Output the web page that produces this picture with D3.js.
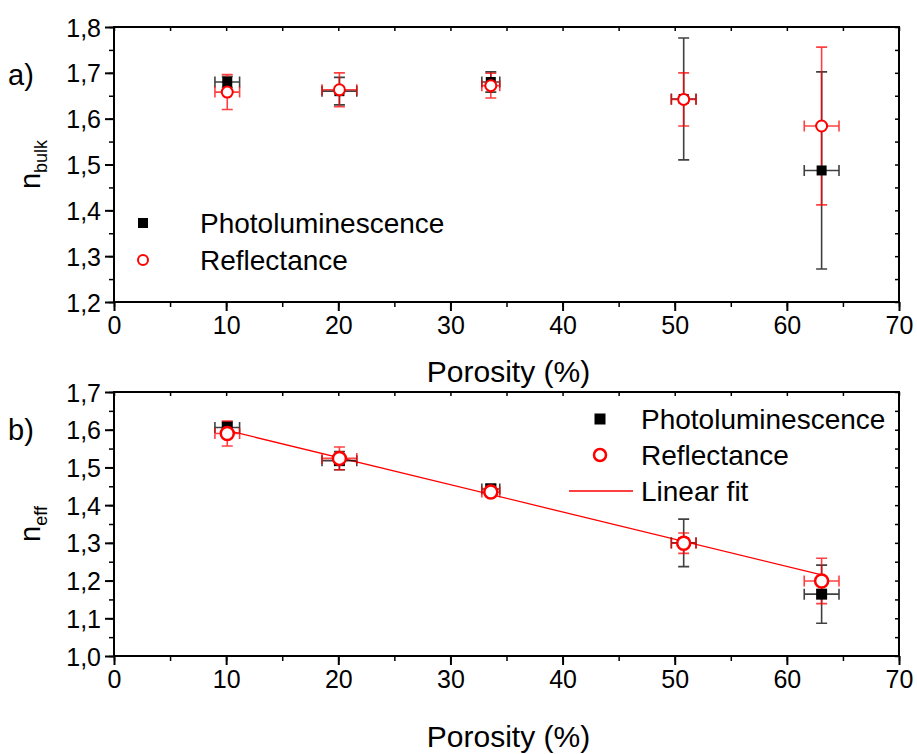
<!DOCTYPE html>
<html>
<head>
<meta charset="utf-8">
<script src="https://cdn.jsdelivr.net/npm/d3@7"></script>
<style>
body { margin: 0; background: #fff; }
svg { display: block; font-family: "Liberation Sans", Arial, sans-serif; }
.axis path, .axis line { stroke: #000; }
.axis text { fill: #000; font-size: 25px; }
</style>
</head>
<body>
<svg id="chart" width="917" height="754"></svg>
<script>
// porosity of the samples (%) and its uncertainty
let porosity = [10.1, 20.1, 33.6, 50.8, 63.1]
let porosityErr = [1.1, 1.55, 0.8, 1.1, 1.55]

// a) bulk index
let bulkPL = [1.68, 1.66, 1.68, 1.643, 1.487]
let bulkPLErr = [0.012, 0.03, 0.022, 0.133, 0.215]
let bulkRefl = [1.658, 1.663, 1.672, 1.642, 1.584]
let bulkReflErr = [0.038, 0.037, 0.027, 0.058, 0.172]

// b) effective index
let effPL = [1.606, 1.518, 1.443, 1.3, 1.164]
let effPLErr = [0.015, 0.024, 0.012, 0.063, 0.077]
let effRefl = [1.59, 1.524, 1.435, 1.299, 1.199]
let effReflErr = [0.033, 0.03, 0.012, 0.027, 0.06]

// linear fit on b)
let fitX = [10.1, 63.1]
let fitY = [1.598, 1.215]

let xTicks = [0, 10, 20, 30, 40, 50, 60, 70]
let bulkTicks = [1.2, 1.3, 1.4, 1.5, 1.6, 1.7, 1.8]
let effTicks = [1.0, 1.1, 1.2, 1.3, 1.4, 1.5, 1.6, 1.7]

let svg = d3.select('#chart')
let left = 114, right = 899
let fmt = d => d3.format('.1f')(d).replace('.', ',')

let x = d3.scaleLinear().domain([0, 70]).range([left, right])

let panel = (top, bottom, domain, yTicks, opt) => {
	let y = d3.scaleLinear().domain(domain).range([bottom, top])
	let g = svg.append('g')
	let minorX = d3.range(0, 71, 5)
	let minorY = d3.range(domain[0], domain[1] + 0.001, 0.05)

	// minor ticks
	g.append('g').attr('class', 'axis').attr('transform', 'translate(0,' + bottom + ')')
		.call(d3.axisBottom(x).tickValues(minorX).tickSize(5).tickFormat('').tickSizeOuter(0))
		.call(a => a.select('.domain').remove()).selectAll('line').attr('stroke-width', 1.5)
	g.append('g').attr('class', 'axis').attr('transform', 'translate(' + left + ',0)')
		.call(d3.axisLeft(y).tickValues(minorY).tickSize(5).tickFormat('').tickSizeOuter(0))
		.call(a => a.select('.domain').remove()).selectAll('line').attr('stroke-width', 1.5)
	// mirrored ticks
	g.append('g').attr('class', 'axis').attr('transform', 'translate(0,' + top + ')')
		.call(d3.axisTop(x).tickValues(minorX).tickSize(-4).tickFormat('').tickSizeOuter(0))
		.call(a => a.select('.domain').remove()).selectAll('line').attr('stroke-width', 1.5)
	g.append('g').attr('class', 'axis').attr('transform', 'translate(' + right + ',0)')
		.call(d3.axisRight(y).tickValues(minorY).tickSize(-4).tickFormat('').tickSizeOuter(0))
		.call(a => a.select('.domain').remove()).selectAll('line').attr('stroke-width', 1.5)

	// frame
	g.append('rect').attr('x', left).attr('y', top).attr('width', right - left).attr('height', bottom - top)
		.attr('fill', 'none').attr('stroke', '#000').attr('stroke-width', 2)

	let xa = g.append('g').attr('class', 'axis').attr('transform', 'translate(0,' + bottom + ')')
		.call(d3.axisBottom(x).tickValues(xTicks).tickSize(9).tickSizeOuter(0).tickPadding(5))
	xa.select('.domain').remove()
	xa.selectAll('line').attr('stroke-width', 2)
	let ya = g.append('g').attr('class', 'axis').attr('transform', 'translate(' + left + ',0)')
		.call(d3.axisLeft(y).tickValues(yTicks).tickSize(9).tickSizeOuter(0).tickPadding(4).tickFormat(fmt))
	ya.select('.domain').remove()
	ya.selectAll('line').attr('stroke-width', 2)
	ya.selectAll('text').attr('dy', '0.36em')

	g.append('text').attr('x', (left + right) / 2 + 2).attr('y', opt.titleY).attr('text-anchor', 'middle')
		.style('font-size', '30px').text('Porosity (%)')
	g.append('text').attr('x', 8).attr('y', opt.tagY).style('font-size', '29px').text(opt.tag)
	let yt = g.append('text').attr('transform', 'translate(40,' + (top + bottom) / 2 + ') rotate(-90)')
		.attr('text-anchor', 'middle').style('font-size', '29px')
	yt.append('tspan').text('n')
	yt.append('tspan').attr('dy', 7).style('font-size', '18px').text(opt.sub)

	if (opt.fit) {
		g.append('path').datum(fitX.map((v, i) => [v, fitY[i]]))
			.attr('fill', 'none').attr('stroke', '#f00').attr('stroke-width', 1.3)
			.attr('d', d3.line().x(d => x(d[0])).y(d => y(d[1])))
	}

	let errors = (vals, errs, color) => {
		let eg = g.append('g').attr('stroke', color).attr('stroke-width', 1.6).attr('stroke-opacity', 0.75).attr('fill', 'none')
		let cap = opt.cap
		vals.forEach((v, i) => {
			let cx = x(porosity[i]), cy = y(v)
			let y0 = y(v - errs[i]), y1 = y(v + errs[i])
			let x0 = x(porosity[i] - porosityErr[i]), x1 = x(porosity[i] + porosityErr[i])
			eg.append('path').attr('d',
				'M' + cx + ',' + y0 + 'V' + y1 +
				'M' + (cx - cap) + ',' + y0 + 'H' + (cx + cap) +
				'M' + (cx - cap) + ',' + y1 + 'H' + (cx + cap) +
				'M' + x0 + ',' + cy + 'H' + x1 +
				'M' + x0 + ',' + (cy - cap) + 'V' + (cy + cap) +
				'M' + x1 + ',' + (cy - cap) + 'V' + (cy + cap))
		})
	}
	errors(opt.pl, opt.plErr, '#000')
	errors(opt.refl, opt.reflErr, '#f00')

	let s = opt.sq
	g.selectAll('rect.pl').data(opt.pl).enter().append('rect').attr('class', 'pl')
		.attr('x', (d, i) => x(porosity[i]) - s / 2).attr('y', d => y(d) - s / 2)
		.attr('width', s).attr('height', s).attr('fill', '#000')
	g.selectAll('circle.refl').data(opt.refl).enter().append('circle').attr('class', 'refl')
		.attr('cx', (d, i) => x(porosity[i])).attr('cy', d => y(d)).attr('r', opt.r)
		.attr('fill', '#fff').attr('stroke', '#f00').attr('stroke-width', opt.sw)

	// legend
	let L = opt.legend
	let lg = g.append('g').style('font-size', L.font + 'px')
	lg.append('rect').attr('x', L.mx - s / 2).attr('y', L.y[0] - s / 2).attr('width', s).attr('height', s).attr('fill', '#000')
	lg.append('text').attr('x', L.tx).attr('y', L.y[0]).attr('dy', '0.35em').text('Photoluminescence')
	lg.append('circle').attr('cx', L.mx).attr('cy', L.y[1]).attr('r', opt.r - 0.5)
		.attr('fill', '#fff').attr('stroke', '#f00').attr('stroke-width', opt.sw)
	lg.append('text').attr('x', L.tx).attr('y', L.y[1]).attr('dy', '0.35em').text('Reflectance')
	if (L.y.length > 2) {
		lg.append('line').attr('x1', L.mx - 31).attr('x2', L.mx + 33).attr('y1', L.y[2]).attr('y2', L.y[2])
			.attr('stroke', '#f00').attr('stroke-width', 1.3)
		lg.append('text').attr('x', L.tx).attr('y', L.y[2]).attr('dy', '0.35em').text('Linear fit')
	}
}

panel(27, 302, [1.2, 1.8], bulkTicks, {
	tag: 'a)', tagY: 85, sub: 'bulk', titleY: 382,
	pl: bulkPL, plErr: bulkPLErr, refl: bulkRefl, reflErr: bulkReflErr,
	cap: 5.5, sq: 10, r: 5.5, sw: 2,
	legend: { mx: 143, tx: 200, y: [223, 260], font: 28 }
})

panel(392, 656, [1.0, 1.7], effTicks, {
	tag: 'b)', tagY: 440, sub: 'eff', titleY: 747, fit: true,
	pl: effPL, plErr: effPLErr, refl: effRefl, reflErr: effReflErr,
	cap: 5.5, sq: 11, r: 6.5, sw: 2.5,
	legend: { mx: 600, tx: 641, y: [419, 455, 491], font: 28 }
})
</script>
</body>
</html>
